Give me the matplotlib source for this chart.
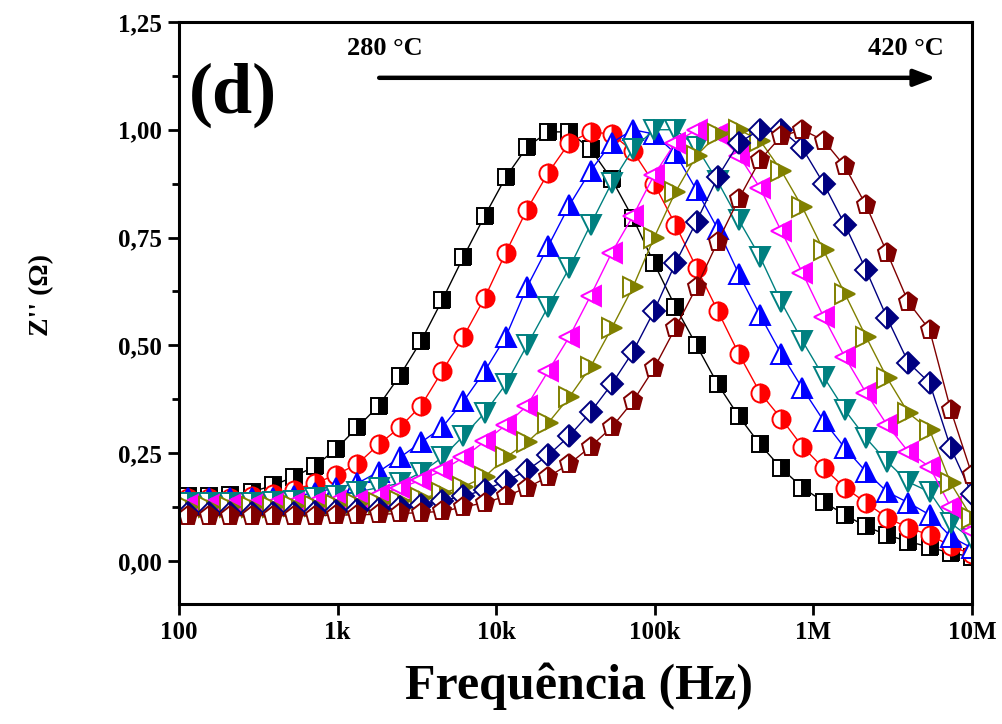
import numpy as np
import matplotlib
matplotlib.use('Agg')
from matplotlib import pyplot as plt
from matplotlib.ticker import FixedLocator, MultipleLocator, FuncFormatter

plt.rcParams['font.family'] = ['Liberation Serif', 'DejaVu Serif']
plt.rcParams['font.weight'] = 'bold'

# frequencias (Hz), passo logaritmico do equipamento
log_f = np.linspace(2.057, 7.0, 38)
freq = 10 ** log_f

temps = ['280', '300', '320', '340', '360', '380', '400', '420']

# Z'' normalizado
z_280 = [0.15, 0.15, 0.152, 0.16, 0.175, 0.195, 0.22, 0.26, 0.31, 0.36,
         0.43, 0.51, 0.605, 0.705, 0.80, 0.89, 0.96, 0.995, 0.995, 0.955,
         0.885, 0.795, 0.69, 0.59, 0.50, 0.41, 0.335, 0.27, 0.215, 0.17,
         0.137, 0.107, 0.08, 0.06, 0.045, 0.032, 0.018, 0.01]
z_300 = [0.145, 0.145, 0.147, 0.15, 0.155, 0.165, 0.18, 0.20, 0.225, 0.27,
         0.31, 0.36, 0.44, 0.52, 0.61, 0.715, 0.815, 0.90, 0.97, 0.995,
         0.99, 0.95, 0.875, 0.78, 0.68, 0.58, 0.48, 0.39, 0.33, 0.265,
         0.215, 0.17, 0.135, 0.10, 0.077, 0.06, 0.035, 0.015]
z_320 = [0.145, 0.145, 0.145, 0.145, 0.145, 0.15, 0.158, 0.17, 0.18, 0.207,
         0.24, 0.275, 0.31, 0.37, 0.44, 0.52, 0.635, 0.73, 0.825, 0.905,
         0.97, 1.0, 0.99, 0.945, 0.86, 0.77, 0.665, 0.57, 0.48, 0.40,
         0.325, 0.262, 0.207, 0.16, 0.135, 0.107, 0.056, 0.03]
z_340 = [0.135, 0.135, 0.135, 0.135, 0.137, 0.14, 0.145, 0.15, 0.16, 0.17,
         0.18, 0.205, 0.24, 0.29, 0.343, 0.41, 0.50, 0.59, 0.68, 0.78,
         0.877, 0.955, 1.0, 1.0, 0.96, 0.88, 0.79, 0.705, 0.60, 0.51,
         0.427, 0.35, 0.285, 0.23, 0.183, 0.16, 0.088, 0.05]
z_360 = [0.13, 0.13, 0.13, 0.13, 0.132, 0.134, 0.136, 0.138, 0.14, 0.153,
         0.17, 0.187, 0.21, 0.24, 0.277, 0.315, 0.36, 0.44, 0.52, 0.615,
         0.715, 0.80, 0.895, 0.97, 1.0, 0.99, 0.94, 0.865, 0.765, 0.668,
         0.566, 0.473, 0.39, 0.315, 0.253, 0.218, 0.125, 0.07]
z_380 = [0.125, 0.125, 0.125, 0.125, 0.126, 0.127, 0.128, 0.13, 0.132, 0.135,
         0.14, 0.145, 0.157, 0.172, 0.195, 0.24, 0.275, 0.32, 0.38, 0.45,
         0.54, 0.635, 0.75, 0.855, 0.94, 0.99, 1.0, 0.975, 0.905, 0.82,
         0.72, 0.62, 0.52, 0.424, 0.343, 0.304, 0.18, 0.10]
z_400 = [0.11, 0.11, 0.11, 0.11, 0.11, 0.112, 0.114, 0.116, 0.118, 0.12,
         0.125, 0.13, 0.14, 0.15, 0.165, 0.185, 0.21, 0.245, 0.29, 0.345,
         0.41, 0.485, 0.58, 0.69, 0.787, 0.89, 0.97, 1.0, 1.0, 0.957,
         0.875, 0.78, 0.675, 0.563, 0.46, 0.413, 0.262, 0.155]
z_420 = [0.105, 0.105, 0.105, 0.105, 0.105, 0.105, 0.105, 0.106, 0.107, 0.108,
         0.11, 0.112, 0.115, 0.125, 0.135, 0.15, 0.17, 0.195, 0.225, 0.265,
         0.31, 0.37, 0.447, 0.54, 0.635, 0.74, 0.84, 0.93, 0.985, 1.0,
         0.975, 0.915, 0.825, 0.714, 0.60, 0.536, 0.35, 0.2]

series = [z_280, z_300, z_320, z_340, z_360, z_380, z_400, z_420]
colors = ['#000000', '#FF0000', '#0000FF', '#008080',
          '#FF00FF', '#808000', '#000080', '#800000']
markers = ['s', 'o', '^', 'v', '<', '>', 'D', 'p']
sizes = [11, 13, 14, 14, 14, 14, 11, 14]

fig = plt.figure(figsize=(10.02, 7.24), dpi=100)
ax = fig.add_axes([0.1786, 0.1657, 0.7914, 0.804])

for z, c, m, s in zip(series, colors, markers, sizes):
    ax.plot(freq, z, color=c, lw=1.0, marker=m, markersize=s,
            fillstyle='right', markerfacecolor=c, markerfacecoloralt='white',
            markeredgecolor=c, markeredgewidth=1.4, clip_on=True)

ax.set_xscale('log')
ax.set_xlim(100, 1e7)
ax.set_ylim(-0.1, 1.25)

ax.xaxis.set_major_locator(FixedLocator([1e2, 1e3, 1e4, 1e5, 1e6, 1e7]))
ax.set_xticklabels(['100', '1k', '10k', '100k', '1M', '10M'])
ax.xaxis.set_minor_locator(FixedLocator([]))
ax.yaxis.set_major_locator(FixedLocator([0, 0.25, 0.5, 0.75, 1.0, 1.25]))
ax.yaxis.set_minor_locator(MultipleLocator(0.125))
ax.yaxis.set_major_formatter(FuncFormatter(lambda v, p: ('%.2f' % v).replace('.', ',')))

ax.tick_params(axis='both', which='major', direction='out', length=8, width=2,
               labelsize=18, pad=4, top=False, right=False)
ax.tick_params(axis='both', which='minor', direction='out', length=5, width=2)
for lab in ax.get_xticklabels() + ax.get_yticklabels():
    lab.set_fontweight('bold')
for sp in ax.spines.values():
    sp.set_linewidth(2.2)

ax.set_xlabel('Frequência (Hz)', fontsize=36, fontweight='bold')
ax.xaxis.set_label_coords(0.504, -0.1)
ax.set_ylabel("Z'' (Ω)", fontsize=20, fontweight='bold')
ax.yaxis.set_label_coords(-0.158, 0.531)

ax.text(0.013, 0.93, '(d)', transform=ax.transAxes, fontsize=52,
        fontweight='bold', va='top', ha='left')
ax.text(0.212, 0.955, '280 °C', transform=ax.transAxes, fontsize=19,
        fontweight='bold', va='center', ha='left')
ax.text(0.965, 0.955, '420 °C', transform=ax.transAxes, fontsize=19,
        fontweight='bold', va='center', ha='right')
ax.annotate('', xy=(0.958, 0.904), xytext=(0.249, 0.904),
            xycoords='axes fraction',
            arrowprops=dict(arrowstyle='-|>,head_length=1.3,head_width=0.5',
                            color='black', lw=3.2))

plt.savefig('out.png', dpi=100)
